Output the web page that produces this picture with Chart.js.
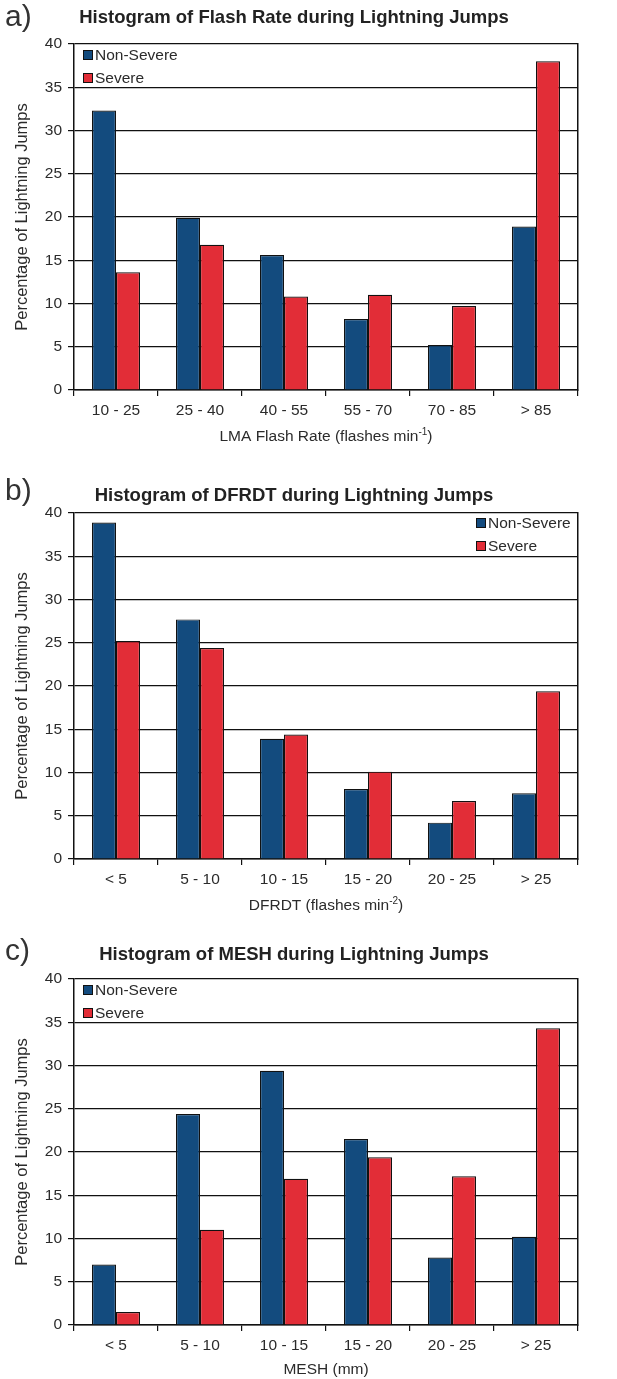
<!DOCTYPE html>
<html>
<head>
<meta charset="utf-8">
<script src="https://cdn.jsdelivr.net/npm/chart.js@4.4.1/dist/chart.umd.min.js"></script>
<style>
  html, body { margin: 0; padding: 0; background: #ffffff; }
  #figure { position: relative; width: 617px; height: 1379px; overflow: hidden; background: #ffffff; }
  #figure canvas { position: absolute; left: 0; }
</style>
</head>
<body>
<div id="figure">
  <canvas id="panelA" width="617" height="469" style="top:0px"></canvas>
  <canvas id="panelB" width="617" height="466" style="top:469px"></canvas>
  <canvas id="panelC" width="617" height="444" style="top:935px"></canvas>
</div>
<script>
// ---- data: percentage of lightning jumps per bin ----
const seriesNames = ['Non-Severe', 'Severe'];

const flashRateBins = ['10 - 25', '25 - 40', '40 - 55', '55 - 70', '70 - 85', '> 85'];
const flashRateNonSevere = [32.3, 19.9, 15.6, 8.2, 5.2, 18.9];
const flashRateSevere = [13.6, 16.8, 10.8, 11.0, 9.7, 38.0];

const dfrdtBins = ['< 5', '5 - 10', '10 - 15', '15 - 20', '20 - 25', '> 25'];
const dfrdtNonSevere = [38.9, 27.7, 13.9, 8.1, 4.2, 7.6];
const dfrdtSevere = [25.2, 24.4, 14.4, 10.1, 6.7, 19.4];

const meshBins = ['< 5', '5 - 10', '10 - 15', '15 - 20', '20 - 25', '> 25'];
const meshNonSevere = [7.0, 24.4, 29.4, 21.5, 7.8, 10.2];
const meshSevere = [1.5, 11.0, 16.9, 19.4, 17.2, 34.3];

// y axis range and step
const yMin = 0;
const yMax = 40;
const yStep = 5;

// panel texts
const panelLetters = ['a)', 'b)', 'c)'];
const panelTitles = [
  'Histogram of Flash Rate during Lightning Jumps',
  'Histogram of DFRDT during Lightning Jumps',
  'Histogram of MESH during Lightning Jumps'
];
const yAxisTitle = 'Percentage of Lightning Jumps';
// x axis titles: [text, superscript, trailing text]
const xAxisTitles = [
  ['LMA Flash Rate (flashes min', '-1', ')'],
  ['DFRDT (flashes min', '-2', ')'],
  ['MESH (mm)', '', '']
];

// ---- styling ----
const FONT = '"Liberation Sans", Arial, Helvetica, sans-serif';
const BLUE = '#134b7e';
const RED = '#e22d37';
const INK = '#111111';
const TEXT = '#2b2b2b';

// Panel letter, in-plot legend and x-axis title with superscript
const panelDecor = {
  id: 'panelDecor',
  afterDraw(chart, args, opts) {
    const ctx = chart.ctx;
    const area = chart.chartArea;
    ctx.save();

    // panel letter
    ctx.fillStyle = '#333333';
    ctx.font = '30px ' + FONT;
    ctx.textAlign = 'left';
    ctx.textBaseline = 'middle';
    ctx.fillText(opts.letter, 5, opts.letterY);

    // legend
    ctx.font = '15.5px ' + FONT;
    const ds = chart.data.datasets;
    let maxW = 0;
    ds.forEach(d => { maxW = Math.max(maxW, ctx.measureText(d.label).width); });
    const box = 10;
    const boxX = opts.legendSide === 'right'
      ? Math.round(area.right - 6 - maxW - 3 - box)
      : Math.round(area.left + 9);
    ds.forEach((d, i) => {
      const cy = Math.round(area.top + opts.legendTop + i * 23);
      ctx.fillStyle = d.backgroundColor;
      ctx.fillRect(boxX, cy - box / 2, box, box);
      ctx.strokeStyle = INK;
      ctx.lineWidth = 1;
      ctx.strokeRect(boxX + 0.5, cy - box / 2 + 0.5, box - 1, box - 1);
      ctx.fillStyle = TEXT;
      ctx.textBaseline = 'middle';
      ctx.fillText(d.label, boxX + box + 2, cy + 1);
    });

    // x axis title
    const [main, sup, tail] = opts.xTitle;
    ctx.font = '15.5px ' + FONT;
    const w1 = ctx.measureText(main).width;
    const w3 = ctx.measureText(tail).width;
    ctx.font = '10px ' + FONT;
    const w2 = sup ? ctx.measureText(sup).width : 0;
    const total = w1 + w2 + w3;
    const cx = (area.left + area.right) / 2;
    const ty = area.bottom + opts.xTitleOffset;
    let x = cx - total / 2;
    ctx.fillStyle = TEXT;
    ctx.textBaseline = 'middle';
    ctx.font = '15.5px ' + FONT;
    ctx.fillText(main, x, ty);
    x += w1;
    if (sup) {
      ctx.font = '10px ' + FONT;
      ctx.fillText(sup, x, ty - 5);
      x += w2;
    }
    ctx.font = '15.5px ' + FONT;
    ctx.fillText(tail, x, ty);
    ctx.restore();
  }
};

function makePanel(canvasId, idx, bins, nonSevere, severe, cfg) {
  return new Chart(document.getElementById(canvasId), {
    type: 'bar',
    data: {
      labels: bins,
      datasets: [
        { label: seriesNames[0], data: nonSevere, backgroundColor: BLUE, borderColor: INK, borderWidth: 1.2, inflateAmount: 0 },
        { label: seriesNames[1], data: severe, backgroundColor: RED, borderColor: INK, borderWidth: 1.2, inflateAmount: 0 }
      ]
    },
    options: {
      responsive: false,
      animation: false,
      devicePixelRatio: 1,
      // plot area spans 74..578 so each of the 6 bins is 84 px wide
      layout: { padding: { left: 10, right: 39, top: 0, bottom: cfg.bottomPad } },
      datasets: { bar: { categoryPercentage: 48 / 84, barPercentage: 1.0 } },
      plugins: {
        legend: { display: false },
        tooltip: { enabled: false },
        title: {
          display: true,
          text: panelTitles[idx],
          color: '#222222',
          font: { family: FONT, size: 18.5, weight: 'bold' },
          padding: { top: cfg.titleTop, bottom: 44 - cfg.titleTop - 18.5 * 1.2 }
        },
        panelDecor: {
          letter: panelLetters[idx],
          letterY: cfg.letterY,
          legendSide: cfg.legendSide,
          legendTop: cfg.legendTop,
          xTitle: xAxisTitles[idx],
          xTitleOffset: cfg.xTitleOffset
        }
      },
      scales: {
        x: {
          grid: { display: true, drawOnChartArea: false, drawTicks: true, tickLength: 6, color: INK, lineWidth: 1.2, offset: true },
          border: { display: true, color: INK, width: 1.5 },
          ticks: { color: TEXT, font: { family: FONT, size: 15.5 }, padding: 5, maxRotation: 0, autoSkip: false },
          afterFit(scale) { scale.height = 54; }
        },
        y: {
          min: yMin,
          max: yMax,
          grid: { display: true, drawOnChartArea: true, drawTicks: true, tickLength: 6, color: INK, lineWidth: 1.2 },
          border: { display: true, color: INK, width: 1.5 },
          ticks: { stepSize: yStep, color: TEXT, font: { family: FONT, size: 15.5 }, padding: 6 },
          title: {
            display: true,
            text: yAxisTitle,
            color: TEXT,
            font: { family: FONT, size: 16.5 },
            padding: { top: 3, bottom: 0 }
          },
          afterFit(scale) { scale.width = 64; }
        },
        yRight: {
          position: 'right',
          min: yMin,
          max: yMax,
          grid: { display: true, drawOnChartArea: false, drawTicks: false },
          border: { display: true, color: INK, width: 1.5 },
          ticks: { display: false },
          afterFit(scale) { scale.width = 0; }
        }
      }
    },
    plugins: [panelDecor]
  });
}

makePanel('panelA', 0, flashRateBins, flashRateNonSevere, flashRateSevere,
  { legendSide: 'left', legendTop: 11, bottomPad: 25, titleTop: 7, letterY: 18, xTitleOffset: 47 });
makePanel('panelB', 1, dfrdtBins, dfrdtNonSevere, dfrdtSevere,
  { legendSide: 'right', legendTop: 10, bottomPad: 22, titleTop: 16, letterY: 23, xTitleOffset: 47 });
makePanel('panelC', 2, meshBins, meshNonSevere, meshSevere,
  { legendSide: 'left', legendTop: 11, bottomPad: 0, titleTop: 9, letterY: 17, xTitleOffset: 45 });
</script>
</body>
</html>
